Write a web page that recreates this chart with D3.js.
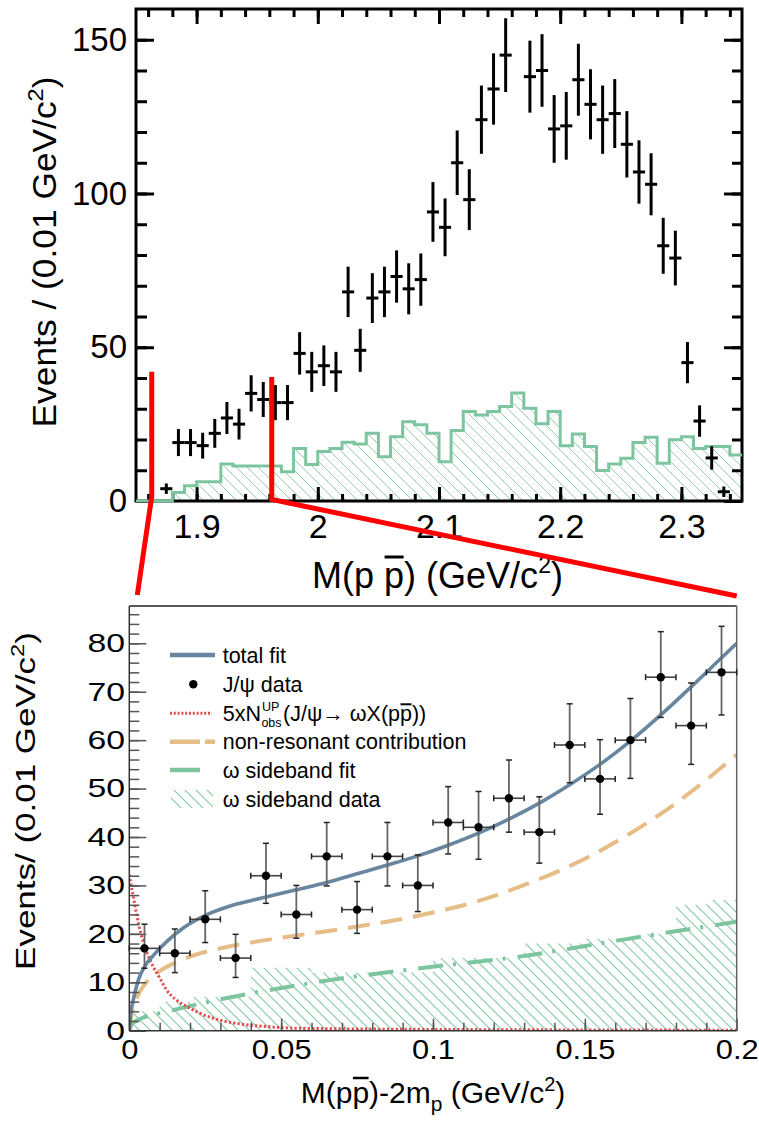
<!DOCTYPE html>
<html><head><meta charset="utf-8">
<script src="https://cdn.jsdelivr.net/npm/d3@7/dist/d3.min.js"></script>
<style>html,body{margin:0;padding:0;background:#fff}svg{display:block}</style>
</head><body>
<svg id="chart" width="759" height="1121"></svg>
<script>
// ---------- upper panel: M(p pbar) spectrum ----------
const massBinCenters = [1.875,1.885,1.895,1.905,1.915,1.925,1.935,1.945,1.955,1.965,1.975,1.985,1.995,2.005,2.015,2.025,2.035,2.045,2.055,2.065,2.075,2.085,2.095,2.105,2.115,2.125,2.135,2.145,2.155,2.175,2.185,2.195,2.205,2.215,2.225,2.235,2.245,2.255,2.265,2.275,2.285,2.295,2.305,2.315,2.325,2.335];
const massCounts = [4,19,19,18,22,27,25,35,33,32,32,48,42,44,42,68,49,66,68,73,69,72,94,89,110,98,124,134,145,138,140,121,122,137,129,124,126,116,107,103,83,79,45,26,14,3];
const massErrors = [1.7,4.4,4.4,4.2,4.7,5.2,5.0,5.9,5.7,5.7,5.7,6.9,6.5,6.6,6.5,8.2,7.0,8.1,8.2,8.5,8.3,8.5,9.7,9.4,10.5,9.9,11.1,11.6,12.0,11.7,11.8,11.0,11.0,11.7,11.4,11.1,11.2,10.8,10.3,10.1,9.1,8.9,6.7,5.1,3.8,1.7];
const sidebandStart = 1.85;
const sidebandBinWidth = 0.01;
const sidebandCounts = [0,0,0,2.8,5.0,6.3,6.3,12.0,11.4,11.4,11.4,11.4,9.5,17.1,11.9,16.1,17.1,19.1,18.5,22.0,14.4,20.9,25.8,24.8,22.0,12.8,22.9,29.1,28.0,29.1,30.7,35.1,30.2,25.1,29.1,18.0,21.8,17.7,9.9,12.0,13.9,19.0,20.7,12.3,19.9,20.9,17.1,17.7,17.7,15.0];
const massXTicks = [1.9,2,2.1,2.2,2.3];
const massXLabels = ["1.9","2","2.1","2.2","2.3"];
const massYTicks = [0,50,100,150];
const massYLabels = ["0","50","100","150"];
// mass window that is blown up in the lower panel
const zoomWindow = [1.863,1.962];
const zoomMarkerTop = [42,40.3];

// ---------- lower panel: threshold region ----------
const thrCenters = [0.005,0.015,0.025,0.035,0.045,0.055,0.065,0.075,0.085,0.095,0.105,0.115,0.125,0.135,0.145,0.155,0.165,0.175,0.185,0.195];
const thrCounts = [17,16,23,15,32,24,36,25,36,30,43,42,48,41,59,52,60,73,63,74];
const thrErrUp = [5.0,5.0,5.9,4.9,6.7,6.0,7.0,5.8,7.0,6.3,7.4,7.4,7.9,7.3,8.5,8.1,8.6,9.4,8.8,9.5];
const thrErrDown = [4.1,4.0,4.8,4.0,5.7,4.9,6.1,4.9,6.1,5.4,6.5,6.6,7.0,6.4,7.8,7.3,7.9,8.3,8.0,8.8];
const sbThrCounts = [4,6,7,7,13,13,12,12,12,12,15,15,15,18,18,19,19,20,26,27];
const totalFitX = [0,0.0005,0.0013,0.003,0.005,0.008,0.0123,0.018,0.025,0.034,0.045,0.055,0.065,0.075,0.085,0.095,0.105,0.115,0.125,0.135,0.145,0.155,0.165,0.175,0.185,0.195,0.2];
const totalFitY = [0,3.6,6.3,10.5,13.2,15.6,18.4,21.3,23.8,25.9,27.6,29.1,30.6,32.4,34.2,36.1,38.3,40.8,43.7,47.0,50.8,55.0,59.8,65.2,71.0,77.0,80.0];
const nonResX = [0,0.0005,0.001,0.003,0.005,0.01,0.015,0.02,0.03,0.04,0.05,0.06,0.07,0.08,0.09,0.1,0.11,0.12,0.13,0.14,0.15,0.16,0.17,0.18,0.19,0.2];
const nonResY = [0,2.5,4,7.5,9.5,12.3,14.0,15.3,17.0,18.2,19.2,20.1,21.0,22.0,23.1,24.4,25.9,27.8,30.1,32.6,35.5,38.9,42.7,47.0,51.8,57.0];
const sbFitX = [0,0.001,0.005,0.0123,0.0167,0.04,0.0667,0.0957,0.1286,0.1615,0.2];
const sbFitY = [0,1.5,2.8,3.9,4.6,7.7,10.5,12.9,15.3,18.7,22.5];
const upperX = [0,0.0013,0.0035,0.0057,0.0079,0.0101,0.0123,0.0156,0.0189,0.0233,0.0288,0.0364,0.0452,0.0562,0.089,0.2];
const upperY = [32.2,27.7,20.8,16.3,13.2,10.8,8.4,6.3,5.0,3.6,2.35,1.4,0.85,0.5,0.3,0.1];
const thrXTicks = [0,0.05,0.1,0.15,0.2];
const thrXLabels = ["0","0.05","0.1","0.15","0.2"];
const thrYTicks = [0,10,20,30,40,50,60,70,80];
const thrYLabels = ["0","10","20","30","40","50","60","70","80"];

const FONT = '"Liberation Sans", Arial, Helvetica, sans-serif';
const C_FIT = "#6886a0", C_NONRES = "#e6bd86", C_SB = "#7cc59f", C_UP = "#e34a4f";

const svg = d3.select("#chart").attr("font-family", FONT);
const defs = svg.append("defs");

function hatchPattern(id, color, width, step) {
  const p = defs.append("pattern").attr("id", id)
    .attr("patternUnits", "userSpaceOnUse").attr("width", step).attr("height", step);
  p.append("path")
    .attr("d", `M-1,-1L${step+1},${step+1}M-1,${step-1}L1,${step+1}M${step-1},-1L${step+1},1`)
    .attr("stroke", color).attr("stroke-width", width).attr("fill", "none");
}
hatchPattern("hatchUpper", "#93d1b1", 1, 11);
hatchPattern("hatchLower", "#86cba6", 1.2, 11);

// text with sub/superscript pieces; parts: {t, dy, s}
function richText(parent, x, y, parts, size, anchor) {
  const t = parent.append("text").attr("x", x).attr("y", y)
    .attr("font-size", size).attr("text-anchor", anchor || "start").attr("fill", "#000");
  let shift = 0;
  parts.forEach(p => {
    const ts = t.append("tspan").text(p.t);
    const target = p.dy || 0;
    if (target - shift !== 0) ts.attr("dy", target - shift);
    shift = target;
    if (p.s) ts.attr("font-size", p.s);
  });
  return t;
}
function overline(parent, textSel, idx, rise, width) {
  const node = textSel.node();
  const a = node.getStartPositionOfChar(idx), b = node.getEndPositionOfChar(idx);
  parent.append("line").attr("x1", a.x + 0.5).attr("x2", b.x - 0.5)
    .attr("y1", a.y - rise).attr("y2", a.y - rise)
    .attr("stroke", "#000").attr("stroke-width", width);
}
function verticalTitle(parent, x, yMid, length, parts, size) {
  const t = richText(parent, 0, 0, parts, size, "middle");
  const natural = t.node().getComputedTextLength();
  t.attr("transform", `translate(${x},${yMid}) rotate(-90) scale(${length / natural},1)`);
  return t;
}

// =============== upper panel ===============
const xT = d3.scaleLinear().domain([1.85, 2.35]).range([136, 742]);
const yT = d3.scaleLinear().domain([0, 160]).range([501, 9]);
const gT = svg.append("g");

const sbSteps = sidebandCounts.map((v, i) => [sidebandStart + i * sidebandBinWidth, v]);
sbSteps.push([sidebandStart + sidebandCounts.length * sidebandBinWidth, sidebandCounts[sidebandCounts.length - 1]]);

gT.append("path").datum(sbSteps)
  .attr("d", d3.area().x(d => xT(d[0])).y0(yT(0)).y1(d => yT(d[1])).curve(d3.curveStepAfter))
  .attr("fill", "url(#hatchUpper)");

function styleAxis(g, color, w, size) {
  g.select(".domain").remove();
  g.selectAll(".tick line").attr("stroke", color).attr("stroke-width", w);
  g.selectAll("text").attr("font-size", size).attr("font-family", FONT).attr("fill", "#000");
  g.attr("font-family", null).attr("font-size", null);
}
const massXMinor = d3.range(0, 25).map(i => 1.86 + i * 0.02);
const massYMinor = d3.range(10, 160, 10);

// ticks (inward, ROOT style)
gT.append("g").attr("transform", "translate(136,0)")
  .call(d3.axisLeft(yT).tickValues(massYMinor).tickSize(-11).tickFormat("")).call(g => styleAxis(g, "#000", 3, 0));
gT.append("g").attr("transform", "translate(136,0)")
  .call(d3.axisLeft(yT).tickValues(massYTicks).tickSize(-18).tickPadding(9).tickFormat((d, i) => massYLabels[i]))
  .call(g => styleAxis(g, "#000", 3, 33));
gT.append("g").attr("transform", "translate(742,0)")
  .call(d3.axisRight(yT).tickValues(massYMinor).tickSize(-10).tickFormat("")).call(g => styleAxis(g, "#000", 3, 0));
gT.append("g").attr("transform", "translate(742,0)")
  .call(d3.axisRight(yT).tickValues(massYTicks).tickSize(-18).tickFormat("")).call(g => styleAxis(g, "#000", 3, 0));
gT.append("g").attr("transform", "translate(0,501)")
  .call(d3.axisBottom(xT).tickValues(massXMinor).tickSize(-7).tickFormat("")).call(g => styleAxis(g, "#000", 3, 0));
gT.append("g").attr("transform", "translate(0,501)")
  .call(d3.axisBottom(xT).tickValues(massXTicks).tickSize(-14).tickPadding(13).tickFormat((d, i) => massXLabels[i]))
  .call(g => styleAxis(g, "#000", 3, 34));
gT.append("g").attr("transform", "translate(0,9)")
  .call(d3.axisTop(xT).tickValues(massXMinor).tickSize(-8).tickFormat("")).call(g => styleAxis(g, "#000", 3, 0));
gT.append("g").attr("transform", "translate(0,9)")
  .call(d3.axisTop(xT).tickValues(massXTicks).tickSize(-15).tickFormat("")).call(g => styleAxis(g, "#000", 3, 0));

gT.append("rect").attr("x", xT(1.85)).attr("y", yT(160))
  .attr("width", xT(2.35) - xT(1.85)).attr("height", yT(0) - yT(160))
  .attr("fill", "none").attr("stroke", "#000").attr("stroke-width", 3);

// sideband outline drawn over the frame
gT.append("path").datum(sbSteps)
  .attr("d", d3.line().x(d => xT(d[0])).y(d => yT(d[1])).curve(d3.curveStepAfter))
  .attr("fill", "none").attr("stroke", C_SB).attr("stroke-width", 3);

// data crosses
const massPts = massBinCenters.map((c, i) => ({ c, v: massCounts[i], e: massErrors[i] }));
gT.append("g").selectAll("line.v").data(massPts).join("line")
  .attr("x1", d => xT(d.c)).attr("x2", d => xT(d.c))
  .attr("y1", d => yT(d.v + d.e)).attr("y2", d => yT(Math.max(0, d.v - d.e)))
  .attr("stroke", "#000").attr("stroke-width", 3);
gT.append("g").selectAll("line.h").data(massPts).join("line")
  .attr("x1", d => xT(d.c - 0.005)).attr("x2", d => xT(d.c + 0.005))
  .attr("y1", d => yT(d.v)).attr("y2", d => yT(d.v))
  .attr("stroke", "#000").attr("stroke-width", 3);

// axis titles
const tX = richText(gT, 437.5, 588, [{ t: "M(p p) (GeV/c" }, { t: "2", dy: -15, s: 23 }, { t: ")" }], 36, "middle");
overline(gT, tX, 4, 31, 3);
verticalTitle(gT, 56, 252, 351, [{ t: "Events / (0.01 GeV/c" }, { t: "2", dy: -13, s: 22 }, { t: ")" }], 33);

// =============== lower panel ===============
const xB = d3.scaleLinear().domain([0, 0.2]).range([129.3, 736.7]);
const yB = d3.scaleLinear().domain([0, 87.7]).range([1030.7, 606]);
const gB = svg.append("g");
defs.append("clipPath").attr("id", "clipLower").append("rect")
  .attr("x", xB(0)).attr("y", yB(87.7)).attr("width", xB(0.2) - xB(0)).attr("height", yB(0) - yB(87.7));
const plotB = gB.append("g").attr("clip-path", "url(#clipLower)");

const sbThrSteps = sbThrCounts.map((v, i) => [thrCenters[i] - 0.005, v]);
sbThrSteps.push([0.2, sbThrCounts[sbThrCounts.length - 1]]);
plotB.append("path").datum(sbThrSteps)
  .attr("d", d3.area().x(d => xB(d[0])).y0(yB(0)).y1(d => yB(d[1])).curve(d3.curveStepAfter))
  .attr("fill", "url(#hatchLower)");

const curve = (xs, ys) => d3.line().x((d, i) => xB(xs[i])).y(d => yB(d)).curve(d3.curveMonotoneX)(ys);
plotB.append("path").attr("d", curve(sbFitX, sbFitY)).attr("fill", "none")
  .attr("stroke", C_SB).attr("stroke-width", 4).attr("stroke-dasharray", "25,10,3,12");
plotB.append("path").attr("d", curve(nonResX, nonResY)).attr("fill", "none")
  .attr("stroke", C_NONRES).attr("stroke-width", 4).attr("stroke-dasharray", "22,11");
plotB.append("path").attr("d", curve(upperX, upperY)).attr("fill", "none")
  .attr("stroke", C_UP).attr("stroke-width", 3).attr("stroke-dasharray", "2.2,2.2");
plotB.append("path").attr("d", curve(totalFitX, totalFitY)).attr("fill", "none")
  .attr("stroke", C_FIT).attr("stroke-width", 3.6);

// axes
const thrXMinor = d3.range(1, 20).map(i => i * 0.01);
const thrYMinor = d3.range(2, 88, 2);
gB.append("g").attr("transform", `translate(${xB(0)},0)`)
  .call(d3.axisLeft(yB).tickValues(thrYMinor).tickSize(-10).tickFormat("")).call(g => styleAxis(g, "#555", 1.5, 0));
gB.append("g").attr("transform", `translate(${xB(0)},0)`)
  .call(d3.axisLeft(yB).tickValues(thrYTicks).tickSize(-17).tickFormat((d, i) => thrYLabels[i]))
  .call(g => styleAxis(g, "#555", 1.5, 26))
  .call(g => g.selectAll("text").attr("x", -3.3).attr("transform", "scale(1.3,1)"));
gB.append("g").attr("transform", `translate(0,${yB(0)})`)
  .call(d3.axisBottom(xB).tickValues(thrXMinor).tickSize(-8).tickFormat("")).call(g => styleAxis(g, "#555", 1.5, 0));
gB.append("g").attr("transform", `translate(0,${yB(0)})`)
  .call(d3.axisBottom(xB).tickValues(thrXTicks).tickSize(-12).tickPadding(8).tickFormat((d, i) => thrXLabels[i]))
  .call(g => styleAxis(g, "#555", 1.5, 28))
  .call(g => g.selectAll("text").attr("transform", "scale(1.1,1)"));

gB.append("line").attr("x1", xB(0)).attr("x2", xB(0.2)).attr("y1", yB(87.7)).attr("y2", yB(87.7))
  .attr("stroke", "#222").attr("stroke-width", 1.5);
gB.append("line").attr("x1", xB(0.2)).attr("x2", xB(0.2)).attr("y1", yB(87.7)).attr("y2", yB(0))
  .attr("stroke", "#666").attr("stroke-width", 1.5);
gB.append("line").attr("x1", xB(0)).attr("x2", xB(0)).attr("y1", yB(87.7)).attr("y2", yB(0))
  .attr("stroke", "#333").attr("stroke-width", 1.5);
gB.append("line").attr("x1", xB(0)).attr("x2", xB(0.2)).attr("y1", yB(0)).attr("y2", yB(0))
  .attr("stroke", "#333").attr("stroke-width", 1.5);

// J/psi data points with asymmetric errors
const thrPts = thrCenters.map((c, i) => ({ c, v: thrCounts[i], up: thrErrUp[i], dn: thrErrDown[i] }));
const gP = gB.append("g");
gP.selectAll("line.ev").data(thrPts).join("line")
  .attr("x1", d => xB(d.c)).attr("x2", d => xB(d.c))
  .attr("y1", d => yB(d.v + d.up)).attr("y2", d => yB(d.v - d.dn))
  .attr("stroke", "#666").attr("stroke-width", 1.8);
gP.selectAll("line.eh").data(thrPts).join("line")
  .attr("x1", d => xB(d.c - 0.005)).attr("x2", d => xB(d.c + 0.005))
  .attr("y1", d => yB(d.v)).attr("y2", d => yB(d.v))
  .attr("stroke", "#444").attr("stroke-width", 1.6);
const caps = [];
thrPts.forEach(d => {
  caps.push({ x1: xB(d.c) - 3, x2: xB(d.c) + 3, y1: yB(d.v + d.up), y2: yB(d.v + d.up) });
  caps.push({ x1: xB(d.c) - 3, x2: xB(d.c) + 3, y1: yB(d.v - d.dn), y2: yB(d.v - d.dn) });
  caps.push({ x1: xB(d.c - 0.005), x2: xB(d.c - 0.005), y1: yB(d.v) - 3, y2: yB(d.v) + 3 });
  caps.push({ x1: xB(d.c + 0.005), x2: xB(d.c + 0.005), y1: yB(d.v) - 3, y2: yB(d.v) + 3 });
});
gP.selectAll("line.cap").data(caps).join("line")
  .attr("x1", d => d.x1).attr("x2", d => d.x2).attr("y1", d => d.y1).attr("y2", d => d.y2)
  .attr("stroke", "#222").attr("stroke-width", 1.5);
gP.selectAll("circle").data(thrPts).join("circle")
  .attr("cx", d => xB(d.c)).attr("cy", d => yB(d.v)).attr("r", 4.2).attr("fill", "#000");

// titles
const tXB = richText(gB, 433, 1103, [{ t: "M(pp)-2m" }, { t: "p", dy: 8, s: 21 }, { t: " (GeV/c" }, { t: "2", dy: -12, s: 20 }, { t: ")" }], 30, "middle");
overline(gB, tXB, 3, 25, 2.5);
verticalTitle(gB, 35, 801, 338, [{ t: "Events/ (0.01 GeV/c" }, { t: "2", dy: -11, s: 19 }, { t: ")" }], 28);

// legend
const gL = gB.append("g");
const legRows = [655, 684.3, 713.3, 741.7, 770, 799];
const LX0 = 170, LX1 = 215, LT = 222.7, LFS = 21.5;
gL.append("line").attr("x1", LX0).attr("x2", LX1).attr("y1", legRows[0]).attr("y2", legRows[0])
  .attr("stroke", C_FIT).attr("stroke-width", 4.5);
gL.append("circle").attr("cx", 193.3).attr("cy", legRows[1]).attr("r", 4.2).attr("fill", "#000");
gL.append("line").attr("x1", LX0).attr("x2", 212).attr("y1", legRows[2]).attr("y2", legRows[2])
  .attr("stroke", C_UP).attr("stroke-width", 3).attr("stroke-dasharray", "2,1.8");
gL.append("line").attr("x1", LX0).attr("x2", LX1).attr("y1", legRows[3]).attr("y2", legRows[3])
  .attr("stroke", C_NONRES).attr("stroke-width", 4.5).attr("stroke-dasharray", "30,5");
gL.append("line").attr("x1", LX0).attr("x2", 200).attr("y1", legRows[4]).attr("y2", legRows[4])
  .attr("stroke", C_SB).attr("stroke-width", 4.5);
gL.append("rect").attr("x", 171).attr("y", 790).attr("width", 42).attr("height", 18)
  .attr("fill", "url(#hatchLower)");

const bl = r => r + 7.5;
richText(gL, LT, bl(legRows[0]), [{ t: "total fit" }], LFS);
richText(gL, LT, bl(legRows[1]), [{ t: "J/\u03C8 data" }], LFS);
const lead = richText(gL, LT, bl(legRows[2]), [{ t: "5xN" }], LFS);
const wLead = lead.node().getComputedTextLength();
const sup = richText(gL, LT + wLead + 1, bl(legRows[2]) - 10, [{ t: "UP" }], 12.5);
const sub = richText(gL, LT + wLead + 0.5, bl(legRows[2]) + 6, [{ t: "obs" }], 12.5);
const wScript = Math.max(sup.node().getComputedTextLength(), sub.node().getComputedTextLength());
const tail = richText(gL, LT + wLead + wScript + 2, bl(legRows[2]), [{ t: "(J/\u03C8\u2192 \u03C9X(pp))" }], LFS);
overline(gL, tail, 10, 16.5, 2);
richText(gL, LT, bl(legRows[3]), [{ t: "non-resonant contribution" }], LFS);
richText(gL, LT, bl(legRows[4]), [{ t: "\u03C9 sideband fit" }], LFS);
richText(gL, LT, bl(legRows[5]), [{ t: "\u03C9 sideband data" }], LFS);

// red zoom markers linking the two panels
const gR = svg.append("g").attr("fill", "none").attr("stroke", "#ff0000").attr("stroke-width", 5);
gR.append("polyline").attr("points", [
  [xT(zoomWindow[0]), yT(zoomMarkerTop[0])], [xT(zoomWindow[0]), yT(1.5)], [xB(0) + 8, yB(87.7) - 11]
].join(" "));
gR.append("polyline").attr("points", [
  [xT(zoomWindow[1]), yT(zoomMarkerTop[1])], [xT(zoomWindow[1]), yT(0.5)], [xB(0.2), yB(87.7) - 10]
].join(" "));
</script>
</body></html>
